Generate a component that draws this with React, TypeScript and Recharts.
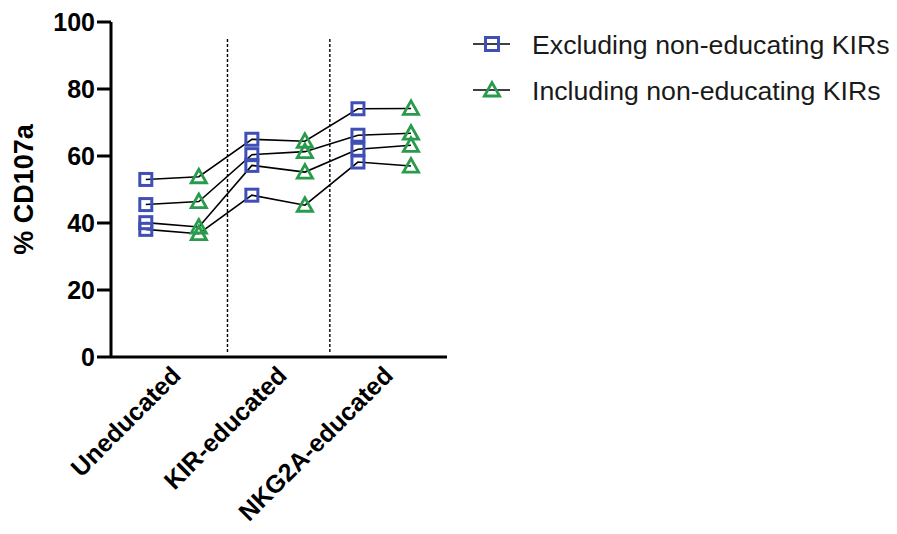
import React from "react";
import {
  LineChart,
  Line,
  XAxis,
  YAxis,
  ReferenceLine,
  Customized,
} from "recharts";

// Three NK-cell subsets, each measured two ways (excluding / including non-educating KIRs)
const categories = ["Uneducated", "KIR-educated", "NKG2A-educated"];
const seriesNames = ["Excluding non-educating KIRs", "Including non-educating KIRs"];
const yTicks = [0, 20, 40, 60, 80, 100];

// One array per donor, in plotting order:
// Uneducated (excl, incl), KIR-educated (excl, incl), NKG2A-educated (excl, incl)
const donor1 = [53.0, 53.8, 65.0, 64.4, 74.1, 74.2];
const donor2 = [45.5, 46.4, 60.4, 61.3, 66.2, 66.8];
const donor3 = [40.1, 38.8, 57.2, 55.2, 62.0, 63.2];
const donor4 = [38.1, 36.8, 48.3, 45.3, 58.2, 57.0];
const donors = [donor1, donor2, donor3, donor4];

const BLUE = "#3F4FB5";
const GREEN = "#2A9A4D";
const FONT = "'Liberation Sans', Arial, Helvetica, sans-serif";

// Build rows: each x slot is one category × measurement pair
const rows = donor1.map((_, i) => {
  const row: Record<string, number | string> = {
    pos: i,
    kind: i % 2 === 0 ? "ex" : "in",
  };
  donors.forEach((d, k) => {
    row[`d${k + 1}`] = d[i];
  });
  return row;
});

const categoryTicks = categories.map((_, i) => i * 2 + 0.5);
const separators = [1.54, 3.47];

const Square = ({ cx, cy, size = 12 }: { cx: number; cy: number; size?: number }) => (
  <rect
    x={cx - size / 2}
    y={cy - size / 2}
    width={size}
    height={size}
    fill="none"
    stroke={BLUE}
    strokeWidth={3}
  />
);

const Triangle = ({ cx, cy }: { cx: number; cy: number }) => (
  <polygon
    points={`${cx},${cy - 7.5} ${cx - 7.6},${cy + 6} ${cx + 7.6},${cy + 6}`}
    fill="none"
    stroke={GREEN}
    strokeWidth={2.8}
    strokeLinejoin="miter"
  />
);

const renderDot = (props: any) => {
  const { cx, cy, payload, index, dataKey } = props;
  if (cx == null || cy == null) return <g key={`${dataKey}-${index}`} />;
  return (
    <g key={`${dataKey}-${index}`}>
      {payload.kind === "ex" ? <Square cx={cx} cy={cy} /> : <Triangle cx={cx} cy={cy} />}
    </g>
  );
};

const CategoryTick = (props: any) => {
  const { x, y, payload } = props;
  const idx = Math.round((payload.value - 0.5) / 2);
  const ax = x + 10;
  const ay = y + 20;
  return (
    <text
      x={ax}
      y={ay}
      textAnchor="end"
      transform={`rotate(-45, ${ax}, ${ay})`}
      fontFamily={FONT}
      fontWeight="bold"
      fontSize={25}
      fill="#000"
    >
      {categories[idx]}
    </text>
  );
};

const YTitle = (props: any) => {
  const vb = props.viewBox || {};
  const cx = 24;
  const cy = (vb.y ?? 22) + (vb.height ?? 335) / 2;
  return (
    <text
      x={cx}
      y={cy}
      textAnchor="middle"
      dominantBaseline="central"
      transform={`rotate(-90, ${cx}, ${cy})`}
      fontFamily={FONT}
      fontWeight="bold"
      fontSize={27}
      fill="#000"
    >
      % CD107a
    </text>
  );
};

const LegendBlock = () => {
  const rowsY = [44, 90];
  return (
    <g>
      {seriesNames.map((name, i) => (
        <g key={name}>
          <line x1={473} x2={510} y1={rowsY[i]} y2={rowsY[i]} stroke="#000" strokeWidth={1.6} />
          {i === 0 ? (
            <Square cx={492} cy={rowsY[i]} size={13} />
          ) : (
            <Triangle cx={492} cy={rowsY[i]} />
          )}
          <text
            x={532}
            y={rowsY[i] + 9.5}
            fontFamily={FONT}
            fontSize={26.7}
            fill="#1a1a1a"
          >
            {name}
          </text>
        </g>
      ))}
    </g>
  );
};

export default function App() {
  return (
    <div style={{ position: "absolute", left: 0, top: 0, background: "#fff" }}>
      <LineChart
        width={897}
        height={534}
        data={rows}
        margin={{ top: 22, right: 450, bottom: 0, left: 0 }}
      >
        <XAxis
          dataKey="pos"
          type="number"
          domain={[-0.656, 5.679]}
          allowDataOverflow
          ticks={categoryTicks}
          interval={0}
          tickLine={false}
          tickSize={0}
          tickMargin={0}
          height={177}
          axisLine={{ stroke: "#000", strokeWidth: 3 }}
          tick={<CategoryTick />}
        />
        <YAxis
          type="number"
          domain={[0, 100]}
          ticks={yTicks}
          interval={0}
          width={111}
          tickSize={14}
          tickMargin={2}
          axisLine={{ stroke: "#000", strokeWidth: 3 }}
          tickLine={{ stroke: "#000", strokeWidth: 3 }}
          tick={{ fill: "#000", fontSize: 25, fontWeight: "bold", fontFamily: FONT }}
          label={<YTitle />}
        />
        {separators.map((sx) => (
          <ReferenceLine
            key={sx}
            segment={[
              { x: sx, y: 1.5 },
              { x: sx, y: 94.9 },
            ]}
            stroke="#000"
            strokeWidth={1.4}
            strokeDasharray="3 2"
          />
        ))}
        {donors.map((_, k) => (
          <Line
            key={k}
            dataKey={`d${k + 1}`}
            type="linear"
            stroke="#000"
            strokeWidth={1.6}
            dot={renderDot}
            activeDot={false}
            isAnimationActive={false}
          />
        ))}
        <Customized component={<LegendBlock />} />
      </LineChart>
    </div>
  );
}
